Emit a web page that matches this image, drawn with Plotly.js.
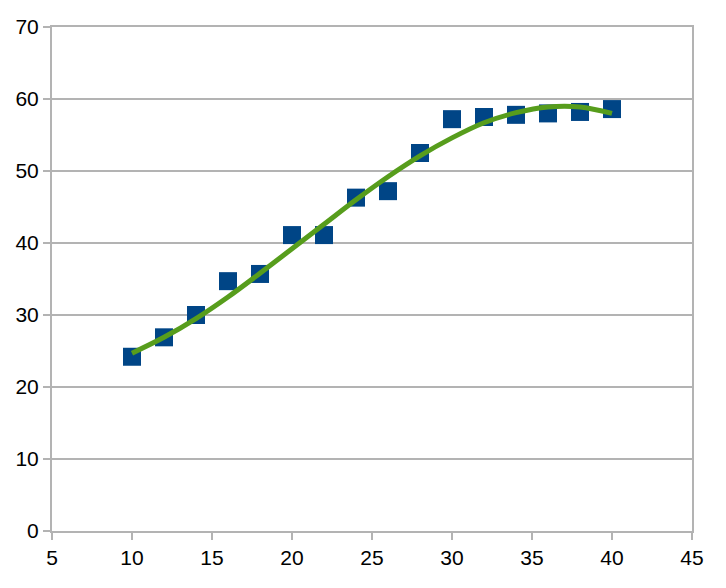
<!DOCTYPE html>
<html>
<head>
<meta charset="utf-8">
<script src="https://cdn.plot.ly/plotly-3.0.1.min.js"></script>
<style>html,body{margin:0;padding:0;background:#fff;}#chart{width:726px;height:588px;}</style>
</head>
<body>
<div id="chart"></div>
<script>
const xValues = [10, 12, 14, 16, 18, 20, 22, 24, 26, 28, 30, 32, 34, 36, 38, 40];
const yValues = [24.2, 26.9, 30.0, 34.7, 35.7, 41.1, 41.1, 46.3, 47.2, 52.5, 57.2, 57.5, 57.8, 58.0, 58.2, 58.6];
const trendX = [10, 12, 14, 16, 18, 20, 22, 24, 26, 28, 30, 32, 34, 36, 38, 40];
const trendY = [24.7, 26.9, 29.5, 32.5, 35.8, 39.2, 42.6, 46.0, 49.2, 52.1, 54.6, 56.7, 58.1, 58.9, 58.9, 58.0];
const xTicks = [5, 10, 15, 20, 25, 30, 35, 40, 45];
const yTicks = [0, 10, 20, 30, 40, 50, 60, 70];

const gray = '#b3b3b3';
const traces = [
  {
    x: xValues, y: yValues, type: 'scatter', mode: 'markers',
    marker: {symbol: 'square', size: 18, color: '#004586'},
    hoverinfo: 'none'
  },
  {
    x: trendX, y: trendY, type: 'scatter', mode: 'lines',
    line: {color: '#579d1c', width: 5, shape: 'spline', smoothing: 1},
    hoverinfo: 'none'
  }
];
const layout = {
  width: 726, height: 588,
  margin: {l: 52, r: 34, t: 27, b: 57},
  paper_bgcolor: '#ffffff', plot_bgcolor: '#ffffff',
  showlegend: false,
  font: {family: 'Liberation Sans, Arial, sans-serif', size: 21, color: '#000000'},
  xaxis: {
    range: [5, 45], tickvals: xTicks, ticktext: xTicks.map(String),
    showgrid: false, zeroline: false,
    showline: true, linecolor: gray, linewidth: 2, mirror: true,
    ticks: 'outside', ticklen: 7, tickwidth: 2, tickcolor: gray,
    tickfont: {size: 21, color: '#000'}
  },
  yaxis: {
    range: [0, 70], tickvals: yTicks, ticktext: yTicks.map(String),
    showgrid: true, gridcolor: gray, gridwidth: 2, zeroline: false,
    showline: true, linecolor: gray, linewidth: 2, mirror: true,
    ticks: 'outside', ticklen: 7, tickwidth: 2, tickcolor: gray,
    tickfont: {size: 21, color: '#000'}
  }
};
Plotly.newPlot('chart', traces, layout, {staticPlot: true, displayModeBar: false});
</script>
</body>
</html>
